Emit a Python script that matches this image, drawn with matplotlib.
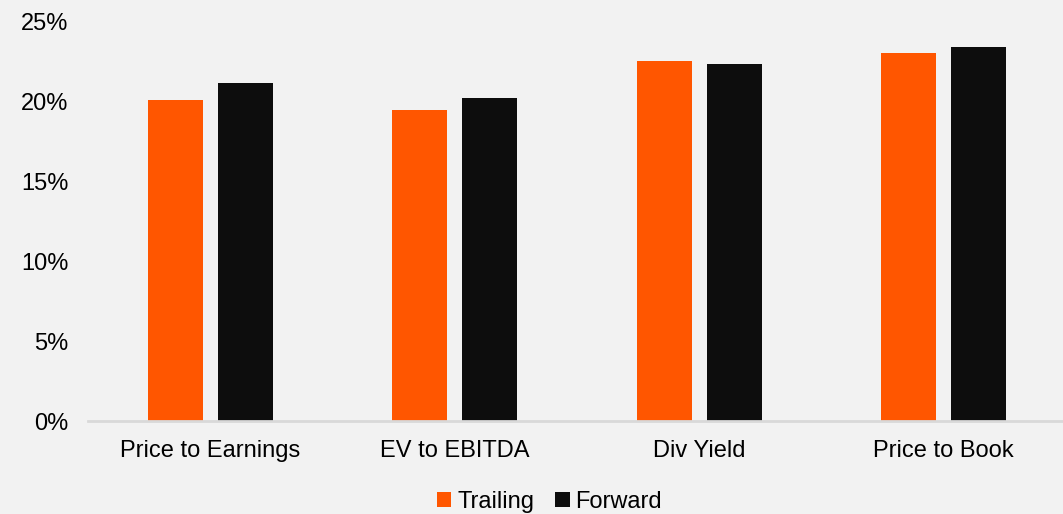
import numpy as np
import matplotlib
matplotlib.use('Agg')
import matplotlib.pyplot as plt
from matplotlib.ticker import FuncFormatter

categories = ['Price to Earnings', 'EV to EBITDA', 'Div Yield', 'Price to Book']
trailing = [20.05, 19.45, 22.5, 23.0]
forward = [21.15, 20.2, 22.3, 23.35]

plt.rcParams['font.family'] = ['Liberation Sans', 'DejaVu Sans']

fig = plt.figure(figsize=(10.63, 5.14), dpi=100)
fig.patch.set_facecolor('#f2f2f2')
ax = fig.add_axes([88 / 1063, (514 - 421) / 514, (1066 - 88) / 1063, 400 / 514])
ax.set_facecolor('#f2f2f2')

x = np.arange(len(categories))
w = 0.225
off = 0.143
ax.bar(x - off, trailing, w, color='#ff5600', label='Trailing')
ax.bar(x + off, forward, w, color='#0d0d0d', label='Forward')

ax.set_xlim(-0.5, 3.5)
ax.set_ylim(0, 25)
ax.set_yticks([0, 5, 10, 15, 20, 25])
ax.yaxis.set_major_formatter(FuncFormatter(lambda v, p: '%d%%' % v))
ax.set_xticks(x)
ax.set_xticklabels(categories)
ax.tick_params(axis='both', length=0, labelsize=17, colors='black')
ax.tick_params(axis='x', pad=14)
ax.tick_params(axis='y', pad=14)

for s in ['top', 'right', 'left']:
    ax.spines[s].set_visible(False)
ax.spines['bottom'].set_color('#d9d9d9')
ax.spines['bottom'].set_linewidth(2)

leg = fig.legend(loc='center', bbox_to_anchor=(0.517, (514 - 502) / 514), ncol=2,
                 frameon=False, fontsize=17, handlelength=0.6, handleheight=0.6,
                 handletextpad=0.25, columnspacing=0.9, borderpad=0)

plt.savefig('out.png', dpi=100, facecolor=fig.get_facecolor())
